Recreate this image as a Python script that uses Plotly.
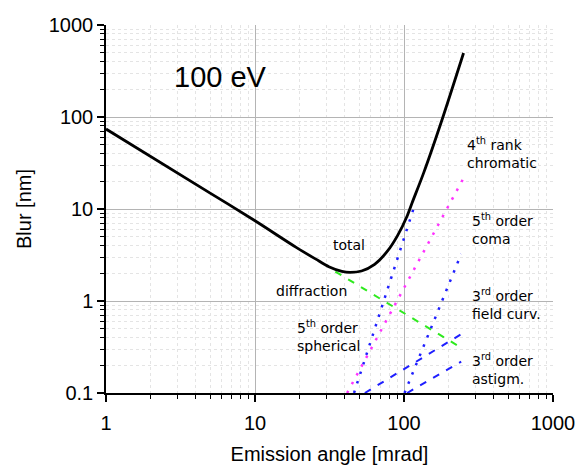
import plotly.graph_objects as go

# ---- data ----
total_x = [1, 5, 10, 18.9, 25.6, 31.3, 38.3, 43.5, 51.9, 63.5, 77.6, 90.3, 105, 113.4, 135.5, 181.4, 251]
total_y = [74, 14.9, 7.45, 3.83, 2.85, 2.36, 2.1, 2.05, 2.12, 2.5, 3.5, 5.1, 8.4, 11.7, 24.7, 97, 496]

diffraction_x = [34.6, 248]
diffraction_y = [2.09, 0.303]

spherical5_x = [46.2, 116.4]
spherical5_y = [0.1, 10.3]

chromatic4_x = [41.5, 248]
chromatic4_y = [0.1, 20.9]

coma5_x = [100.8, 242]
coma5_y = [0.1, 3.24]

fieldcurv3_x = [54.6, 242]
fieldcurv3_y = [0.1, 0.436]

astigm3_x = [105, 242]
astigm3_y = [0.1, 0.219]

x_ticks = [1, 10, 100, 1000]
x_tick_labels = ["1", "10", "100", "1000"]
y_ticks = [0.1, 1, 10, 100, 1000]
y_tick_labels = ["0.1", "1", "10", "100", "1000"]

# ---- figure ----
W, H = 587, 474
ML, MR, MT, MB = 106, 25, 24.5, 79
PW, PH = W - ML - MR, H - MT - MB

fig = go.Figure()

BLUE = "#1f1fff"
MAG = "#ff33ff"
GREEN = "#2eea1e"

fig.add_trace(go.Scatter(x=chromatic4_x, y=chromatic4_y, mode="lines",
                         line=dict(color=MAG, width=2.5, dash="2.5px,7.5px")))
fig.add_trace(go.Scatter(x=spherical5_x, y=spherical5_y, mode="lines",
                         line=dict(color=BLUE, width=2.5, dash="2.5px,7.5px")))
fig.add_trace(go.Scatter(x=coma5_x, y=coma5_y, mode="lines",
                         line=dict(color=BLUE, width=2.5, dash="2.5px,7.5px")))
fig.add_trace(go.Scatter(x=fieldcurv3_x, y=fieldcurv3_y, mode="lines",
                         line=dict(color=BLUE, width=2, dash="7px,8px")))
fig.add_trace(go.Scatter(x=astigm3_x, y=astigm3_y, mode="lines",
                         line=dict(color=BLUE, width=2, dash="7px,8px")))
fig.add_trace(go.Scatter(x=diffraction_x, y=diffraction_y, mode="lines",
                         line=dict(color=GREEN, width=2, dash="7px,8px")))
fig.add_trace(go.Scatter(x=total_x, y=total_y, mode="lines",
                         line=dict(color="black", width=2.8, shape="spline", smoothing=0.8)))

def px2paper(px, py):
    return (px - ML) / PW, (H - MB - py) / PH

ANN_FONT = dict(family="DejaVu Sans", size=14, color="black")
labels = [
    ("4<sup>th</sup> rank<br>chromatic", 473, 153.7),
    ("5<sup>th</sup> order<br>coma", 478, 230.2),
    ("3<sup>rd</sup> order<br>field curv.", 478, 305),
    ("3<sup>rd</sup> order<br>astigm.", 478, 370.8),
    ("total", 336.7, 245.7),
    ("diffraction", 278.3, 292.7),
    ("5<sup>th</sup> order<br>spherical", 300, 338),
]
anns = []
for txt, px, py in labels:
    ax, ay = px2paper(px, py)
    anns.append(dict(text=txt, x=ax, y=ay, xref="paper", yref="paper",
                     xanchor="left", yanchor="middle", showarrow=False,
                     font=ANN_FONT, align="left", borderpad=0))
ax, ay = px2paper(223.3, 76.7)
anns.append(dict(text="100 eV", x=ax, y=ay, xref="paper", yref="paper",
                 xanchor="center", yanchor="middle", showarrow=False,
                 font=dict(family="Liberation Sans", size=29, color="black")))

axis_common = dict(
    type="log",
    showline=True, linecolor="black", linewidth=1.5, mirror=False,
    ticks="outside", ticklen=7, tickwidth=1.5, tickcolor="black",
    showgrid=True, gridcolor="#b4b4b4", gridwidth=1,
    tickfont=dict(family="Liberation Sans", size=20, color="black"),
    minor=dict(dtick="D1", ticks="outside", ticklen=4, tickwidth=1, tickcolor="black",
               showgrid=True, gridcolor="#e4e4e4", gridwidth=1, griddash="dot"),
    zeroline=False,
)

fig.update_layout(
    width=W, height=H,
    margin=dict(l=ML, r=MR, t=MT, b=MB, pad=0),
    paper_bgcolor="white", plot_bgcolor="white",
    showlegend=False,
    annotations=anns,
    xaxis=dict(axis_common, range=[0, 3], tickvals=x_ticks, ticktext=x_tick_labels,
               ticklabelstandoff=4,
               title=dict(text="Emission angle [mrad]", standoff=14,
                          font=dict(family="Liberation Sans", size=20, color="black"))),
    yaxis=dict(axis_common, range=[-1, 3], tickvals=y_ticks, ticktext=y_tick_labels,
               title=dict(text="Blur [nm]", standoff=12,
                          font=dict(family="Liberation Sans", size=20, color="black"))),
)

fig.write_html("out.html")
